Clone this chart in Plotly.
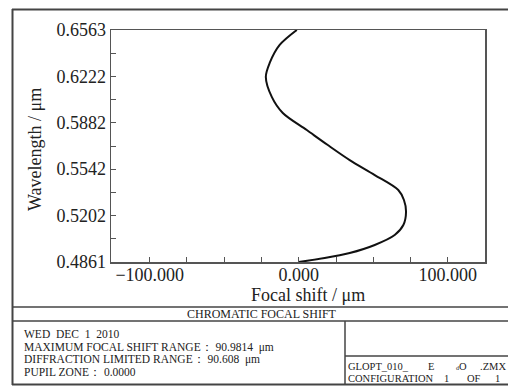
import plotly.graph_objects as go

# ---- data ----
wavelength_um = [0.4861, 0.4890, 0.4927, 0.4986, 0.5059, 0.5132, 0.5228, 0.5316, 0.5389,
                 0.5499, 0.5609, 0.5719, 0.5829, 0.5954, 0.6072, 0.6218, 0.6321, 0.6453, 0.6563]
focal_shift_um = [0.0, 17.4, 34.2, 51.0, 64.4, 70.2, 72.0, 70.6, 66.8,
                  51.0, 34.2, 19.5, 5.4, -10.7, -18.1, -22.1, -19.5, -12.8, -1.3]

x_tick_vals = [-100, -75, -50, -25, 0, 25, 50, 75, 100]
x_tick_text = ["\u2212100.000", "", "", "", "0.000", "", "", "", "100.000"]
y_major = [0.4861, 0.5202, 0.5542, 0.5882, 0.6222, 0.6563]
y_major_text = ["0.4861", "0.5202", "0.5542", "0.5882", "0.6222", "0.6563"]

info_lines = ["WED  DEC  1  2010",
              "MAXIMUM FOCAL SHIFT RANGE\uff1a 90.9814  \u03bcm",
              "DIFFRACTION LIMITED RANGE\uff1a 90.608  \u03bcm",
              "PUPIL ZONE\uff1a 0.0000"]
file_line1 = ["GLOPT_010_", "E", "<span style='font-size:6px'>d</span>O", ".ZMX"]
file_line2 = ["CONFIGURATION", "1", "OF", "1"]
chart_title = "CHROMATIC FOCAL SHIFT"

# ---- layout geometry (pixels); body margin removed by post_script ----
W, H = 508, 386
L, R, T, B = 111, 485, 30, 262
X_RANGE = [-126, 125]

def px(x):
    return (x - L) / (R - L)

def py(y):
    return (B - y) / (B - T)

y_tick_vals = []
y_tick_text = []
for i, v in enumerate(y_major):
    y_tick_vals.append(v)
    y_tick_text.append(y_major_text[i])
    if i < len(y_major) - 1:
        y_tick_vals.append((v + y_major[i + 1]) / 2)
        y_tick_text.append("")

fig = go.Figure()
fig.add_trace(go.Scatter(
    x=focal_shift_um, y=wavelength_um, mode="lines",
    line=dict(color="#111111", width=2, shape="spline", smoothing=0.9),
    hoverinfo="skip", showlegend=False))

serif = "Liberation Serif, Times New Roman, serif"
axis_col = "#555555"
txt_col = "#222222"

fig.update_layout(
    width=W, height=H,
    margin=dict(l=L, r=W - R, t=T, b=H - B, pad=0),
    paper_bgcolor="white", plot_bgcolor="white",
    font=dict(family=serif, color=txt_col),
    xaxis=dict(range=X_RANGE, showgrid=False, zeroline=False,
               showline=True, linecolor=axis_col, linewidth=1.5, mirror=True,
               ticks="inside", ticklen=5, tickwidth=1, tickcolor=axis_col,
               tickvals=x_tick_vals, ticktext=x_tick_text, ticklabelstandoff=-4,
               tickfont=dict(family=serif, size=18, color=txt_col)),
    yaxis=dict(range=[0.4861, 0.6563], showgrid=False, zeroline=False,
               showline=True, linecolor=axis_col, linewidth=1.5, mirror=True,
               ticks="inside", ticklen=5, tickwidth=1, tickcolor=axis_col,
               tickvals=y_tick_vals, ticktext=y_tick_text,
               tickfont=dict(family=serif, size=18, color=txt_col)),
)

annotations = []
annotations.append(dict(text="Focal shift / \u03bcm", x=px(308), y=py(295), xref="paper", yref="paper",
                        showarrow=False, xanchor="center", yanchor="middle",
                        font=dict(family=serif, size=18, color=txt_col)))
annotations.append(dict(text="Wavelength / \u03bcm", x=px(35), y=py(150), xref="paper", yref="paper",
                        showarrow=False, xanchor="center", yanchor="middle", textangle=-90,
                        font=dict(family=serif, size=18, color=txt_col)))
annotations.append(dict(text=chart_title, x=px(262), y=py(314), xref="paper", yref="paper",
                        showarrow=False, xanchor="center", yanchor="middle",
                        font=dict(family=serif, size=12, color=txt_col)))
info_y = [333.5, 347, 359.5, 372]
for t, yy in zip(info_lines, info_y):
    annotations.append(dict(text=t, x=px(22), y=py(yy), xref="paper", yref="paper",
                            showarrow=False, xanchor="left", yanchor="middle",
                            font=dict(family=serif, size=11.5, color=txt_col)))
line1_x = [347, 427, 455, 479]
line2_x = [347, 443, 466, 494]
for t, xx in zip(file_line1, line1_x):
    annotations.append(dict(text=t, x=px(xx), y=py(366), xref="paper", yref="paper",
                            showarrow=False, xanchor="left", yanchor="middle", borderpad=0,
                            font=dict(family=serif, size=10.5, color=txt_col)))
for t, xx in zip(file_line2, line2_x):
    annotations.append(dict(text=t, x=px(xx), y=py(378), xref="paper", yref="paper",
                            showarrow=False, xanchor="left", yanchor="middle", borderpad=0,
                            font=dict(family=serif, size=10.5, color=txt_col)))
fig.update_layout(annotations=annotations)

frame_col = "#444444"
shapes = []
def hline(x0, x1, y, w=1.5):
    shapes.append(dict(type="line", xref="paper", yref="paper",
                       x0=px(x0), x1=px(x1), y0=py(y), y1=py(y),
                       line=dict(color=frame_col, width=w)))
def vline(x, y0, y1, w=1.5):
    shapes.append(dict(type="line", xref="paper", yref="paper",
                       x0=px(x), x1=px(x), y0=py(y0), y1=py(y1),
                       line=dict(color=frame_col, width=w)))

hline(12, 512, 9.5, 2)
hline(12, 512, 384.5, 2)
vline(12.5, 9, 385, 2)
hline(12, 512, 307)
hline(12, 512, 321)
vline(345, 321, 385)
hline(345, 512, 356)
fig.update_layout(shapes=shapes)

fig.write_html("out.html",
               config={"displayModeBar": False, "staticPlot": True},
               post_script="document.body.style.margin='0';"
                           "document.documentElement.style.overflow='hidden';"
                           "document.body.style.overflow='hidden';")
